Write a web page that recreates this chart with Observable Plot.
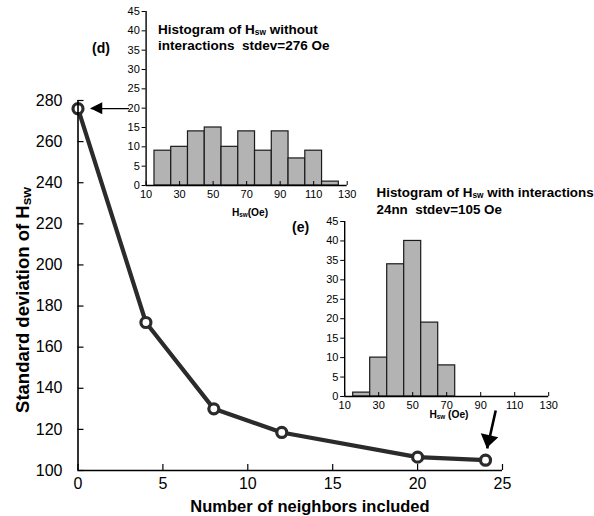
<!DOCTYPE html>
<html>
<head>
<meta charset="utf-8">
<script src="https://cdn.jsdelivr.net/npm/d3@7"></script>
<script src="https://cdn.jsdelivr.net/npm/@observablehq/plot@0.6"></script>
<style>
  body { margin: 0; background: #fff; }
  #wrap { position: relative; width: 594px; height: 516px; overflow: hidden;
          font-family: "Liberation Sans", Arial, sans-serif; color: #000; }
  #wrap svg { position: absolute; overflow: visible; }
  .lbl { position: absolute; white-space: pre; font-weight: bold; line-height: 1;
         transform: translateY(-50%); }
  .ctr { transform: translate(-50%, -50%); }
  .sub { font-size: 0.62em; vertical-align: -0.12em; }
  .ytitle .sub { font-size: 0.74em; vertical-align: -0.1em; }
</style>
</head>
<body>
<div id="wrap"></div>
<script>
// Standard deviation of the switching field vs. number of neighbours
const neighbors = [0, 4, 8, 12, 20, 24];
const stdevHsw = [276, 172, 130, 118.5, 106.5, 105];
const xTicks = [0, 5, 10, 15, 20, 25];
const yTicks = [100, 120, 140, 160, 180, 200, 220, 240, 260, 280];

// Histograms of Hsw (bins 10 Oe wide)
const binCenters = [20, 30, 40, 50, 60, 70, 80, 90, 100, 110, 120];
const countsWithout = [9, 10, 14, 15, 10, 14, 9, 14, 7, 9, 1];
const countsWith24nn = [1, 10, 34, 40, 19, 8, 0, 0, 0, 0, 0];
const histXTicks = [10, 30, 50, 70, 90, 110, 130];
const histYTicks = [0, 5, 10, 15, 20, 25, 30, 35, 40, 45];

// Pointer arrows (main-plot data coordinates): from -> to
const arrowFromX = [3.0, 24.6];
const arrowFromY = [276, 129.2];
const arrowToX = [0.75, 24.1];
const arrowToY = [276, 110.7];

const FONT = "Liberation Sans, Arial, sans-serif";
const INK = "#2b2b2b";
const wrap = document.getElementById("wrap");

// ---------- main chart ----------
const M = {w: 594, h: 516, l: 77.5, r: 92, t: 100, b: 46};
const mainTick = 6; // inward tick length, px
const mainData = neighbors.map((n, i) => ({n, s: stdevHsw[i]}));
const arrows = arrowFromX.map((x, i) => ({x1: x, y1: arrowFromY[i], x2: arrowToX[i], y2: arrowToY[i], w: i === 0 ? 1.3 : 2.6}));

const main = Plot.plot({
  width: M.w, height: M.h,
  marginLeft: M.l, marginRight: M.r, marginTop: M.t, marginBottom: M.b,
  style: {fontFamily: FONT, fontSize: "16px", color: "#000", background: "transparent"},
  x: {domain: [0, 25]},
  y: {domain: [100, 280]},
  marks: [
    Plot.line(mainData, {x: "n", y: "s", stroke: INK, strokeWidth: 4.2}),
    Plot.dot(mainData, {x: "n", y: "s", r: 5, stroke: INK, strokeWidth: 3.2, fill: "white"}),
    Plot.ruleX([0], {stroke: "#000", strokeWidth: 1.6}),
    Plot.ruleY([100], {stroke: "#000", strokeWidth: 1.6}),
    // inward tick marks
    Plot.tickY(yTicks, {y: d => d, stroke: "#000", strokeWidth: 1.2, insetRight: M.w - M.l - M.r - mainTick}),
    Plot.tickX(xTicks, {x: d => d, stroke: "#000", strokeWidth: 1.2, insetTop: M.h - M.t - M.b - mainTick}),
    // tick labels
    Plot.axisY({ticks: yTicks, tickSize: 0, tickPadding: 15.5, fontSize: 16, label: null}),
    Plot.axisX({ticks: xTicks, tickSize: 0, tickPadding: 7, fontSize: 16, label: null}),
    Plot.link(arrows, {x1: "x1", y1: "y1", x2: "x2", y2: "y2", stroke: "#000", strokeWidth: "w"})
  ]
});
main.style.left = "0px";
main.style.top = "0px";
wrap.appendChild(main);

// filled triangular heads at the arrow tips
{
  const sx = main.scale("x"), sy = main.scale("y");
  const heads = [{len: 12, half: 6}, {len: 13, half: 9}];
  arrows.forEach((a, i) => {
    const px1 = sx.apply(a.x1), py1 = sy.apply(a.y1);
    const px2 = sx.apply(a.x2), py2 = sy.apply(a.y2);
    const dx = px2 - px1, dy = py2 - py1, L = Math.hypot(dx, dy);
    const ux = dx / L, uy = dy / L;
    const {len, half} = heads[i];
    const bx = px2 - ux * len, by = py2 - uy * len;
    const p = [[px2, py2], [bx - uy * half, by + ux * half], [bx + uy * half, by - ux * half]];
    d3.select(main).append("path")
      .attr("d", "M" + p.map(q => q.join(",")).join("L") + "Z")
      .attr("fill", "#000");
  });
}

// ---------- inset histograms ----------
function histogram(counts, box) {
  const data = binCenters.map((c, i) => ({x1: c - 5, x2: c + 5, y: counts[i]})).filter(d => d.y > 0);
  const innerH = box.h - box.mt - box.mb;
  const svg = Plot.plot({
    width: box.w, height: box.h,
    marginLeft: box.ml, marginRight: box.mr, marginTop: box.mt, marginBottom: box.mb,
    style: {fontFamily: FONT, fontSize: "11px", color: "#000", background: "transparent"},
    x: {domain: [10, 130]},
    y: {domain: [0, 45]},
    marks: [
      Plot.rectY(data, {x1: "x1", x2: "x2", y: "y", fill: "#b3b3b3", stroke: "#1a1a1a", strokeWidth: 1.2}),
      Plot.ruleX([10], {stroke: "#000", strokeWidth: 1.4}),
      Plot.ruleY([0], {stroke: "#000", strokeWidth: 1.4}),
      Plot.tickX(histXTicks, {x: d => d, stroke: "#000", strokeWidth: 1, insetTop: innerH - 4}),
      Plot.axisY({ticks: histYTicks, tickSize: 4, tickPadding: 2.3, fontSize: 11, label: null, stroke: "#000"}),
      Plot.axisX({ticks: histXTicks, tickSize: 0, tickPadding: 4.4, fontSize: 11, label: null})
    ]
  });
  svg.style.left = box.left + "px";
  svg.style.top = box.top + "px";
  wrap.appendChild(svg);
}

histogram(countsWithout, {left: 100, top: 0, w: 260, h: 220, ml: 45.6, mr: 13.3, mt: 11, mb: 35});
histogram(countsWith24nn, {left: 300, top: 200, w: 260, h: 220, ml: 44.2, mr: 11.8, mt: 21, mb: 24});

// ---------- text ----------
const H = '<span>H</span><span class="sub">sw</span>';
function label(html, x, y, size, centered, extra, cls) {
  const d = document.createElement("div");
  d.className = "lbl" + (centered ? " ctr" : "") + (cls ? " " + cls : "");
  d.style.left = x + "px";
  d.style.top = y + "px";
  d.style.fontSize = size + "px";
  if (extra) d.style.transform = extra;
  d.innerHTML = html;
  wrap.appendChild(d);
}

label("Histogram of " + H + " without", 158, 29.5, 13.5);
label("interactions  stdev=276 Oe", 158, 46, 13.5);
label("(d)", 92, 48, 14);
label(H + "(Oe)", 250, 213, 10.2, true);

label("Histogram of " + H + " with interactions", 376.5, 193.3, 13.4);
label("24nn  stdev=105 Oe", 376.5, 209.5, 13.4);
label("(e)", 292, 227, 14);
label(H + " (Oe)", 449, 415, 10.2, true);

label("Number of neighbors included", 310, 506, 16.5, true);
label("Standard deviation of " + H, 24, 300, 18.5, true, "translate(-50%, -50%) rotate(-90deg)", "ytitle");
</script>
</body>
</html>
